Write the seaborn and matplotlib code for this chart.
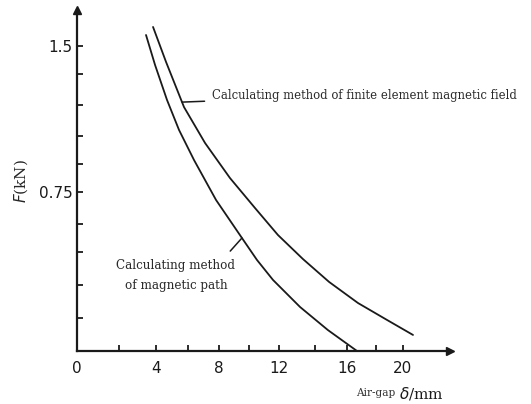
import numpy as np
import seaborn as sns
import matplotlib.pyplot as plt

# air gap (mm) and force (kN)
gap_path = [3.46, 3.95, 4.69, 5.44, 6.39, 7.81, 9.53, 10.53, 11.6, 13.17, 14.81, 16.69]
force_path = [1.559, 1.398, 1.224, 1.079, 0.921, 0.7125, 0.525, 0.414, 0.323, 0.2, 0.095, 0.0]

gap_fem = [3.84, 4.63, 5.75, 7.10, 8.73, 10.4, 11.93, 13.33, 14.88, 16.76, 18.82, 20.74]
force_fem = [1.602, 1.414, 1.19, 1.0125, 0.825, 0.675, 0.541, 0.418, 0.314, 0.218, 0.141, 0.073]

x_ticks = [0, 2, 4, 6, 8, 10, 12, 14, 16, 18, 20]
x_labels = ["0", "", "4", "", "8", "", "12", "", "16", "", "20"]
y_ticks = [0.15, 0.3, 0.45, 0.6, 0.75, 0.9, 1.05, 1.2, 1.35, 1.5]
y_labels = ["", "", "", "", "0.75", "", "", "", "", "1.5"]

label_fem = "Calculating method of finite element magnetic field"
label_path = "Calculating method\nof magnetic path"

# the hand drawn axes are not quite even, follow the drawn tick spacing
xt = [-2, 0, 2, 4, 6, 8, 10, 12, 14, 16, 18, 20, 24]
xp = [35, 77, 119, 156, 188, 219, 249, 279, 315, 347, 376, 403, 457]
yt = [-0.3, 0, 0.15, 0.3, 0.45, 0.6, 0.75, 0.9, 1.05, 1.2, 1.35, 1.5, 1.8]
yp = [-66, 0, 33, 66, 99, 127, 159, 187, 215, 246, 277, 305, 361]

sns.set_style("ticks")
plt.rcParams["font.family"] = ["DejaVu Sans"]

fig = plt.figure(figsize=(5.31, 4.04), dpi=100)
ax = fig.add_axes([77 / 531, 53 / 404, 373 / 531, 341 / 404])

ax.set_xscale("function", functions=(lambda v: np.interp(v, xt, xp), lambda p: np.interp(p, xp, xt)))
ax.set_yscale("function", functions=(lambda v: np.interp(v, yt, yp), lambda p: np.interp(p, yp, yt)))

sns.lineplot(x=gap_path, y=force_path, sort=False, estimator=None, color="#1a1a1a", lw=1.3, ax=ax)
sns.lineplot(x=gap_fem, y=force_fem, sort=False, estimator=None, color="#1a1a1a", lw=1.3, ax=ax)

ax.set_xlim(0, np.interp(450, xp, xt))
ax.set_ylim(0, np.interp(341, yp, yt))

sns.despine(ax=ax)
for s in ["left", "bottom"]:
    ax.spines[s].set_linewidth(1.6)
    ax.spines[s].set_color("#1a1a1a")

ax.set_xticks(x_ticks)
ax.set_xticklabels(x_labels)
ax.set_yticks(y_ticks)
ax.set_yticklabels(y_labels)
ax.tick_params(axis="x", direction="in", length=4, width=1.3, pad=7, labelsize=11, colors="#1a1a1a")
ax.tick_params(axis="y", direction="in", length=4, width=1.3, pad=3, labelsize=11, colors="#1a1a1a")
ax.minorticks_off()

# arrow heads on the axes
ax.plot(1, 0, ">", color="#1a1a1a", ms=6, transform=ax.get_yaxis_transform(), clip_on=False)
ax.plot(0, 1, "^", color="#1a1a1a", ms=6, transform=ax.get_xaxis_transform(), clip_on=False)

ax.set_ylabel("$F$(kN)", fontsize=11, family="DejaVu Serif")
ax.yaxis.set_label_coords(-0.125, 0.5)
ax.set_xlabel("")
fig.text(399, 11, "Air-gap ", fontsize=7.6, family="DejaVu Serif", ha="right", va="center",
         transform=None, color="#333333")
fig.text(399, 11, r"$\delta$/mm", fontsize=11, family="DejaVu Serif", ha="left", va="center",
         transform=None, color="#1a1a1a")

# leader lines to the curves
x0 = 5.63
ax.annotate(label_fem, xy=(x0, np.interp(x0, gap_fem, force_fem)), xytext=(212, 309),
            textcoords="figure pixels", fontsize=8.4, family="DejaVu Serif", color="#2a2a2a",
            va="center", ha="left",
            arrowprops=dict(arrowstyle="-", color="#1a1a1a", lw=1.1, shrinkA=3, shrinkB=0))
x1 = 9.53
ax.annotate(label_path, xy=(x1, np.interp(x1, gap_path, force_path)), xytext=(176, 129),
            textcoords="figure pixels", fontsize=8.6, family="DejaVu Serif", color="#2a2a2a",
            va="center", ha="center", linespacing=1.7,
            arrowprops=dict(arrowstyle="-", color="#1a1a1a", lw=1.1, shrinkA=4, shrinkB=0,
                            relpos=(0.9, 1.0)))

fig.savefig("out.png", dpi=100)
